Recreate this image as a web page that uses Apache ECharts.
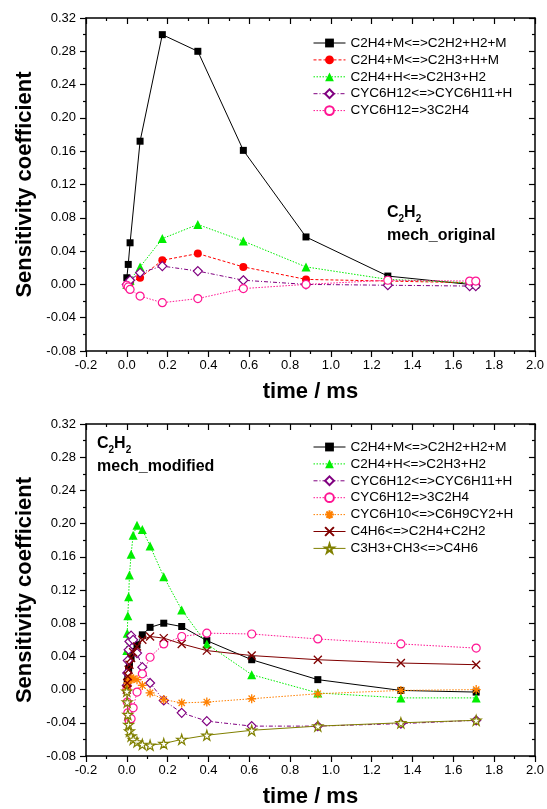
<!DOCTYPE html>
<html>
<head>
<meta charset="utf-8">
<script src="https://cdn.jsdelivr.net/npm/echarts@6/dist/echarts.min.js"></script>
<style>
html, body { margin: 0; padding: 0; background: #fff; }
#chartWrap { width: 547px; height: 809px; }
</style>
</head>
<body>
<div id="chartWrap"></div>
<script>
// ---- 上图 mech_original 的数据 ----
var timeOrig = [0, 0.007, 0.016, 0.065, 0.174, 0.348, 0.571, 0.878, 1.279, 1.68, 1.71];
var origC2H2M = [0.008, 0.024, 0.050, 0.172, 0.300, 0.280, 0.161, 0.057, 0.010, 0.000, -0.001];
var origC2H3M = [0.000, 0.001, 0.002, 0.008, 0.029, 0.037, 0.021, 0.006, 0.004, 0.002, 0.002];
var origC2H3H2 = [0.000, 0.002, 0.005, 0.021, 0.055, 0.072, 0.052, 0.021, 0.006, 0.002, 0.001];
var origCYC6H11 = [0.000, 0.002, 0.005, 0.014, 0.022, 0.016, 0.005, 0.000, -0.001, -0.002, -0.002];
var origCYC3C2H4 = [-0.001, -0.003, -0.006, -0.014, -0.022, -0.017, -0.005, 0.000, 0.005, 0.004, 0.004];

// ---- 下图 mech_modified 的数据 ----
var timeMod = [0, 0.002, 0.005, 0.009, 0.013, 0.021, 0.031, 0.050, 0.076, 0.114, 0.181, 0.269, 0.392, 0.612, 0.936, 1.343, 1.712];
var modC2H2M = [0.003, 0.010, 0.018, 0.025, 0.030, 0.038, 0.046, 0.054, 0.066, 0.075, 0.080, 0.076, 0.059, 0.036, 0.012, -0.001, -0.003];
var modC2H3H2 = [0.047, 0.068, 0.089, 0.112, 0.138, 0.163, 0.186, 0.198, 0.193, 0.173, 0.136, 0.096, 0.055, 0.018, -0.004, -0.010, -0.010];
var modCYC6H11 = [0.005, 0.020, 0.035, 0.048, 0.058, 0.065, 0.060, 0.044, 0.027, 0.008, -0.013, -0.028, -0.038, -0.044, -0.044, -0.041, -0.037];
var modCYC3C2H4 = [0.000, -0.015, -0.028, -0.036, -0.038, -0.035, -0.022, -0.003, 0.019, 0.039, 0.055, 0.064, 0.068, 0.067, 0.061, 0.055, 0.050];
var modC6H9CY2 = [0.000, 0.004, 0.008, 0.011, 0.013, 0.014, 0.013, 0.012, 0.005, -0.004, -0.012, -0.016, -0.015, -0.011, -0.005, -0.001, 0.000];
var modC4H6 = [0.000, 0.008, 0.016, 0.024, 0.030, 0.038, 0.045, 0.052, 0.060, 0.064, 0.062, 0.055, 0.047, 0.041, 0.036, 0.032, 0.030];
var modC3H3 = [-0.002, -0.015, -0.030, -0.042, -0.050, -0.056, -0.060, -0.063, -0.066, -0.067, -0.065, -0.060, -0.055, -0.049, -0.044, -0.040, -0.037];

// 坐标轴刻度
var xMin = -0.2, xMax = 2.0, xStep = 0.2;
var yMin = -0.08, yMax = 0.32, yStep = 0.04;

// 图例名
var namesOrig = ['C2H4+M<=>C2H2+H2+M', 'C2H4+M<=>C2H3+H+M', 'C2H4+H<=>C2H3+H2', 'CYC6H12<=>CYC6H11+H', 'CYC6H12=>3C2H4'];
var namesMod = ['C2H4+M<=>C2H2+H2+M', 'C2H4+H<=>C2H3+H2', 'CYC6H12<=>CYC6H11+H', 'CYC6H12=>3C2H4', 'CYC6H10<=>C6H9CY2+H', 'C4H6<=>C2H4+C2H2', 'C3H3+CH3<=>C4H6'];

var FONT = 'Liberation Sans, Arial, sans-serif';

// 每条线的风格（符号 + 线型）
var STAR = 'path://M50,0L61,35L98,35L68,57L79,91L50,70L21,91L32,57L2,35L39,35Z';
var ASTER = 'path://M5,0L5,10M0,5L10,5M1.5,1.5L8.5,8.5M8.5,1.5L1.5,8.5';
var CROSS = 'path://M0,0L10,10M10,0L0,10';

function filled(symbol, size, color, dash) {
    return {
        symbol: symbol, symbolSize: size,
        itemStyle: { color: color },
        lineStyle: { color: color, width: 1, type: dash || 'solid' }
    };
}
function hollow(symbol, size, color, dash) {
    return {
        symbol: symbol, symbolSize: size,
        itemStyle: { color: '#fff', borderColor: color, borderWidth: 1.2 },
        lineStyle: { color: color, width: 1, type: dash || 'solid' }
    };
}
function stroked(symbol, size, color, dash) {
    return {
        symbol: symbol, symbolSize: size,
        itemStyle: { color: 'rgba(0,0,0,0)', borderColor: color, borderWidth: 1.3 },
        lineStyle: { color: color, width: 1, type: dash || 'solid' }
    };
}

var sqBlack = filled('rect', 7, '#000000');
var dotRed = filled('circle', 8, '#ff0000', [3, 2]);
var triGreen = filled('triangle', 9, '#00ee00', [1.5, 1.5]);
var diaPurple = hollow('diamond', 9, '#800080', [4, 2, 1, 2]);
var cirPink = hollow('circle', 8, '#ff1493', [1.5, 1.5]);
var astOrange = stroked(ASTER, 9, '#ff8000', [1.5, 1.5]);
var xDarkRed = stroked(CROSS, 8, '#800000');
var starOlive = hollow(STAR, 10, '#808000');

function pairs(t, v) {
    var out = [];
    for (var i = 0; i < t.length; i++) out.push([t[i], v[i]]);
    return out;
}

function line(name, t, v, style, idx) {
    return {
        name: name, type: 'line', xAxisIndex: idx * 2, yAxisIndex: idx * 2,
        data: pairs(t, v), symbol: style.symbol, symbolSize: style.symbolSize,
        itemStyle: style.itemStyle, lineStyle: style.lineStyle,
        emphasis: { disabled: true }
    };
}

var series = [
    line(namesOrig[0], timeOrig, origC2H2M, sqBlack, 0),
    line(namesOrig[1], timeOrig, origC2H3M, dotRed, 0),
    line(namesOrig[2], timeOrig, origC2H3H2, triGreen, 0),
    line(namesOrig[3], timeOrig, origCYC6H11, diaPurple, 0),
    line(namesOrig[4], timeOrig, origCYC3C2H4, cirPink, 0),

    line(namesMod[0], timeMod, modC2H2M, sqBlack, 1),
    line(namesMod[1], timeMod, modC2H3H2, triGreen, 1),
    line(namesMod[2], timeMod, modCYC6H11, diaPurple, 1),
    line(namesMod[3], timeMod, modCYC3C2H4, cirPink, 1),
    line(namesMod[4], timeMod, modC6H9CY2, astOrange, 1),
    line(namesMod[5], timeMod, modC4H6, xDarkRed, 1),
    line(namesMod[6], timeMod, modC3H3, starOlive, 1)
];

function fmt(d) {
    return function (v) { return (Math.abs(v) < 1e-9 ? 0 : v).toFixed(d); };
}

// 主轴（带标签）和对面的镜像轴（只画刻度，朝内）
function xAxes(gridIndex) {
    var base = {
        type: 'value', gridIndex: gridIndex, min: xMin, max: xMax, interval: xStep,
        splitLine: { show: false },
        axisLine: { onZero: false, lineStyle: { color: '#000', width: 1.5 } },
        minorTick: { show: true, splitNumber: 2, length: 3, lineStyle: { color: '#000', width: 1.2 } },
        axisTick: { length: 6, lineStyle: { color: '#000', width: 1.2 } }
    };
    var bottom = echarts.util.merge({
        position: 'bottom',
        axisLabel: { formatter: fmt(1), color: '#000', fontSize: 13, fontFamily: FONT, margin: 8 },
        name: 'time / ms', nameLocation: 'middle', nameGap: 30,
        nameTextStyle: { fontSize: 22, fontWeight: 'bold', color: '#000', fontFamily: FONT }
    }, base, true);
    var top = echarts.util.merge({
        position: 'top', axisLabel: { show: false }
    }, base, true);
    top.axisTick.inside = true;
    top.minorTick.inside = true;
    return [bottom, top];
}
function yAxes(gridIndex) {
    var base = {
        type: 'value', gridIndex: gridIndex, min: yMin, max: yMax, interval: yStep,
        splitLine: { show: false },
        axisLine: { onZero: false, lineStyle: { color: '#000', width: 1.5 } },
        minorTick: { show: true, splitNumber: 2, length: 3, lineStyle: { color: '#000', width: 1.2 } },
        axisTick: { length: 6, lineStyle: { color: '#000', width: 1.2 } }
    };
    var left = echarts.util.merge({
        position: 'left',
        axisLabel: { formatter: fmt(2), color: '#000', fontSize: 13, fontFamily: FONT, margin: 10 },
        name: 'Sensitivity coefficient', nameLocation: 'middle', nameGap: 46,
        nameTextStyle: { fontSize: 22, fontWeight: 'bold', color: '#000', fontFamily: FONT }
    }, base, true);
    var right = echarts.util.merge({
        position: 'right', axisLabel: { show: false }
    }, base, true);
    right.axisTick.inside = true;
    right.minorTick.inside = true;
    return [left, right];
}

function legendAt(names, top) {
    return {
        data: names, orient: 'vertical', left: 308, top: top,
        itemWidth: 32, itemHeight: 11, itemGap: 2.9,
        selectedMode: false,
        lineStyle: { width: 1 },
        textStyle: { fontSize: 13.5, fontFamily: FONT, color: '#000', lineHeight: 14 }
    };
}

// 图中的 C2H2 标注（下标用 rich text）
function label(x, y, tag) {
    return {
        type: 'text', left: x, top: y,
        style: {
            text: '{m|C}{s|2}{m|H}{s|2}\n{m|' + tag + '}',
            rich: {
                m: { fontSize: 16, fontWeight: 'bold', fontFamily: FONT, fill: '#000', lineHeight: 23 },
                s: { fontSize: 10, fontWeight: 'bold', fontFamily: FONT, fill: '#000', lineHeight: 10, verticalAlign: 'bottom' }
            }
        }
    };
}

var myChart = echarts.init(document.getElementById('chartWrap'));
myChart.setOption({
    animation: false,
    backgroundColor: '#fff',
    grid: [
        { left: 86, top: 18, width: 449, height: 333 },
        { left: 86, top: 424, width: 449, height: 332 }
    ],
    xAxis: xAxes(0).concat(xAxes(1)),
    yAxis: yAxes(0).concat(yAxes(1)),
    legend: [legendAt(namesOrig, 31), legendAt(namesMod, 435)],
    graphic: [label(387, 205, 'mech_original'), label(97, 436, 'mech_modified')],
    series: series
});
</script>
</body>
</html>
